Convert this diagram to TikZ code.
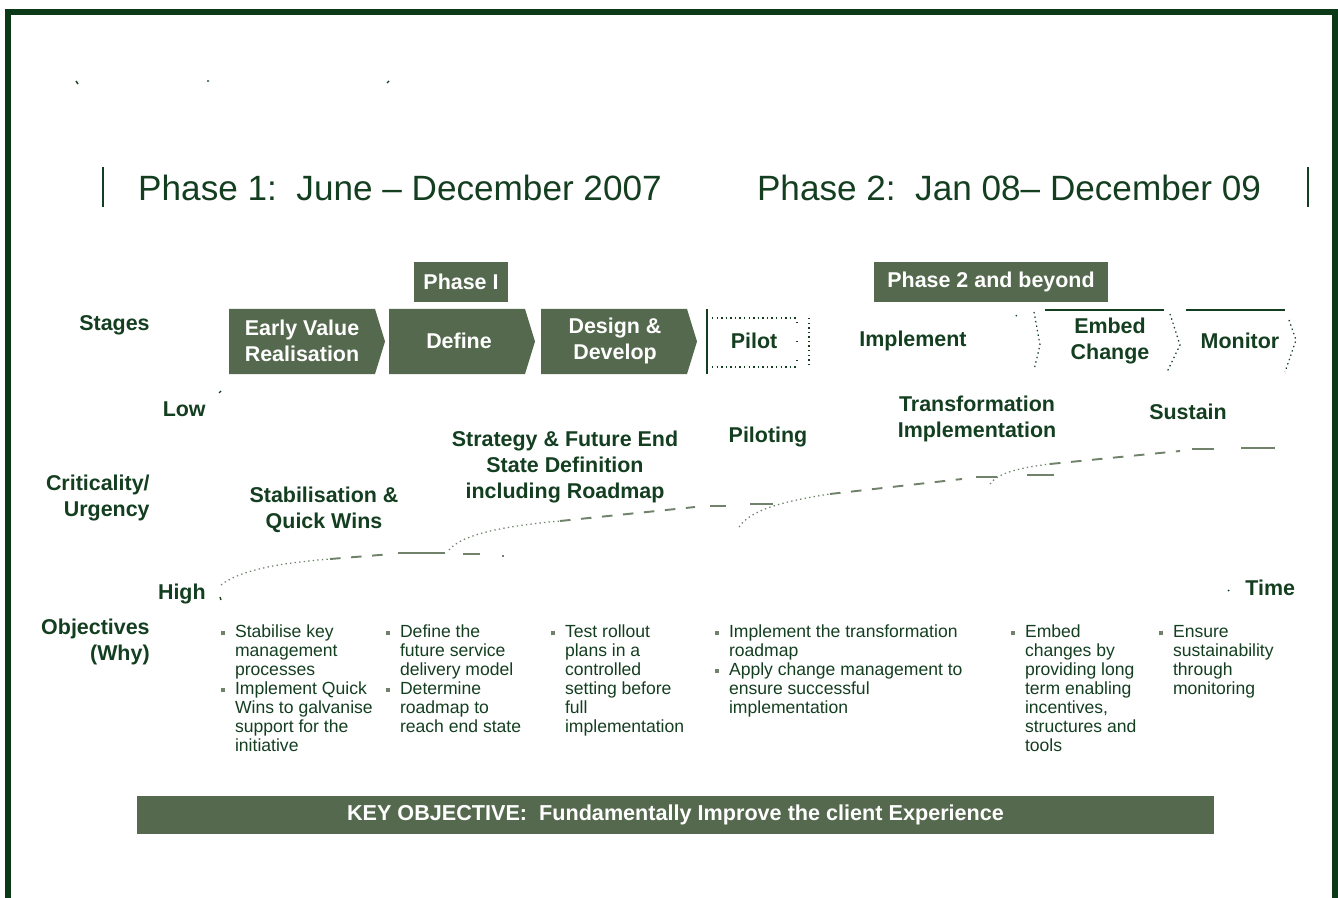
\documentclass[tikz,border=0pt]{standalone}
\usepackage{fontspec}
\setmainfont{Liberation Sans}
\usepackage{tikz}

\definecolor{framegreen}{RGB}{12,58,24}
\definecolor{textgreen}{RGB}{20,62,32}
\definecolor{boxgreen}{RGB}{85,105,78}
\definecolor{dashgreen}{RGB}{112,130,106}
\newcommand{\bul}{\textcolor{dashgreen}{\rule[1.3pt]{2.3pt}{2.3pt}}}

\begin{document}
\begin{tikzpicture}[x=0.02cm,y=-0.02cm,
    stagetxt/.style={text=white, font=\fontsize{12.2}{14.6}\selectfont\bfseries, align=center},
    lbl/.style={text=textgreen, font=\fontsize{12.2}{14.6}\selectfont\bfseries, align=center},
    rowlbl/.style={text=textgreen, font=\fontsize{12.2}{14.6}\selectfont\bfseries, align=right,
      anchor=east, inner sep=0pt},
    phasebox/.style={fill=boxgreen, text=white, font=\fontsize{12.2}{14.6}\selectfont\bfseries,
      minimum height=0.8cm, inner sep=0pt},
    objtxt/.style={text=textgreen, font=\fontsize{10}{10.8}\selectfont, anchor=north west, inner sep=0pt},
    dotline/.style={dashgreen, line width=0.7pt, dash pattern=on 0.8pt off 1.8pt},
    midline/.style={dashgreen, line width=1.1pt, dash pattern=on 6pt off 6pt},
    longdash/.style={dashgreen, line width=1.1pt}]
      \useasboundingbox (0,0) rectangle (1338,898);

      % frame
      \draw[framegreen, line width=2.9pt] (8,898) -- (8,12) -- (1335,12) -- (1335,898);
      \draw[textgreen, line width=0.8pt] (76,81) -- (78,84) (207,81) -- (209,81) (387,83) -- (389,81);

      % headings
      \draw[textgreen, line width=1.1pt] (103,167) -- (103,207) (1308,167) -- (1308,207);
      \node (ph1) at (400,188) [text=textgreen, font=\fontsize{20}{24}\selectfont] {Phase 1:\ \ June -- December 2007};
      \node (ph2) at (1009,188) [text=textgreen, font=\fontsize{20}{24}\selectfont] {Phase 2:\ \ Jan 08-- December 09};

      \node (pI) at (461,282) [phasebox, minimum width=1.88cm] {Phase I};
      \node (pII) at (991,282) [phasebox, minimum width=4.68cm] {Phase 2 and beyond};

      % stages
      \fill[boxgreen] (229,309) -- (375,309) -- (385,341.5) -- (375,374) -- (229,374) -- cycle;
      \fill[boxgreen] (389,309) -- (525,309) -- (535,341.5) -- (525,374) -- (389,374) -- cycle;
      \fill[boxgreen] (541,309) -- (687,309) -- (697,341.5) -- (687,374) -- (541,374) -- cycle;
      \node (evr) at (302,341) [stagetxt] {Early Value\\Realisation};
      \node (def) at (459,341) [stagetxt] {Define};
      \node (dnd) at (615,341) [stagetxt] {Design \&\\Develop};

      \draw[textgreen, line width=0.9pt] (707,309) -- (707,374);
      \draw[dotline, textgreen] (712,318) -- (797,318) (712,367) -- (797,367) (809,318) -- (809,367);
      \draw[dotline, textgreen, dash pattern=on 0.8pt off 10pt] (797,322) -- (797,367);
      \node (pil) at (754,341) [lbl] {Pilot};
      \node (imp) at (913,341) [lbl] {Implement};

      \draw[textgreen, line width=0.9pt] (1045,310) -- (1164,310) (1186,310) -- (1285,310);
      \draw[dotline, textgreen] (1016,315) -- (1017,317) (1034,312) -- (1040,345) -- (1034,370)
        (1170,314) -- (1180,345) -- (1167,372) (1289,320) -- (1296,340) -- (1285,372);
      \node (emb) at (1110,341) [lbl] {Embed\\Change};
      \node (mon) at (1240,341) [lbl] {Monitor};

      % row labels
      \node (stg) at (150,325) [rowlbl] {Stages};
      \node (crt) at (150,498) [rowlbl] {Criticality/\\Urgency};
      \node (obj) at (150,642) [rowlbl] {Objectives\\(Why)};
      \node (low) at (206,409) [rowlbl] {Low};
      \node (hig) at (206,594) [rowlbl] {High};
      \node (tim) at (1245,588) [lbl, anchor=west, inner sep=0pt] {Time};
      \draw[textgreen, line width=0.8pt] (219,393) -- (221,391) (220,597) -- (221,600) (1228,590) -- (1229,591);

      % urgency curves
      \draw[dotline] (221,585) .. controls (240,570) and (280,563) .. (330,559);
      \draw[midline] (330,559) -- (392,554);
      \draw[longdash] (398,553) -- (445,553) (463,554) -- (480,554) (502,556) -- (504,556);

      \draw[dotline] (449,550) .. controls (462,534) and (505,526) .. (560,521);
      \draw[midline] (560,521) -- (695,507);
      \draw[longdash] (710,506) -- (726,506) (750,504) -- (773,504);

      \draw[dotline] (739,527) .. controls (750,511) and (778,502) .. (830,494);
      \draw[midline] (830,494) -- (962,479);
      \draw[longdash] (976,477) -- (997,477) (1027,475) -- (1054,475);

      \draw[dotline] (990,484) .. controls (998,473) and (1018,468) .. (1050,464);
      \draw[midline] (1050,464) -- (1180,451);
      \draw[longdash] (1192,449) -- (1214,449) (1241,448) -- (1275,448);

      \node (stb) at (324,510) [lbl] {Stabilisation \&\\Quick Wins};
      \node (str) at (565,467) [lbl] {Strategy \& Future End\\State Definition\\including Roadmap};
      \node (plt) at (768,437) [lbl] {Piloting};
      \node (trf) at (977,419) [lbl] {Transformation\\Implementation};
      \node (sus) at (1188,412) [lbl] {Sustain};

      % objectives
      \node (o1) at (221,624) [objtxt] {\begin{tabular}{@{}l@{\hspace{5.5pt}}l@{}}
        \bul & Stabilise key\\ & management\\ & processes\\
        \bul & Implement Quick\\ & Wins to galvanise\\ & support for the\\ & initiative\end{tabular}};
      \node (o2) at (386,624) [objtxt] {\begin{tabular}{@{}l@{\hspace{5.5pt}}l@{}}
        \bul & Define the\\ & future service\\ & delivery model\\
        \bul & Determine\\ & roadmap to\\ & reach end state\end{tabular}};
      \node (o3) at (551,624) [objtxt] {\begin{tabular}{@{}l@{\hspace{5.5pt}}l@{}}
        \bul & Test rollout\\ & plans in a\\ & controlled\\ & setting before\\ & full\\ & implementation\end{tabular}};
      \node (o4) at (715,624) [objtxt] {\begin{tabular}{@{}l@{\hspace{5.5pt}}l@{}}
        \bul & Implement the transformation\\ & roadmap\\
        \bul & Apply change management to\\ & ensure successful\\ & implementation\end{tabular}};
      \node (o5) at (1011,624) [objtxt] {\begin{tabular}{@{}l@{\hspace{5.5pt}}l@{}}
        \bul & Embed\\ & changes by\\ & providing long\\ & term enabling\\ & incentives,\\ & structures and\\ & tools\end{tabular}};
      \node (o6) at (1159,624) [objtxt] {\begin{tabular}{@{}l@{\hspace{5.5pt}}l@{}}
        \bul & Ensure\\ & sustainability\\ & through\\ & monitoring\end{tabular}};

      % key objective bar
      \node (key) at (675.5,815) [phasebox, minimum width=21.54cm, minimum height=0.76cm,
        font=\fontsize{12.3}{14}\selectfont\bfseries]
        {KEY OBJECTIVE:\ \ Fundamentally Improve the client Experience};
\end{tikzpicture}
\end{document}
